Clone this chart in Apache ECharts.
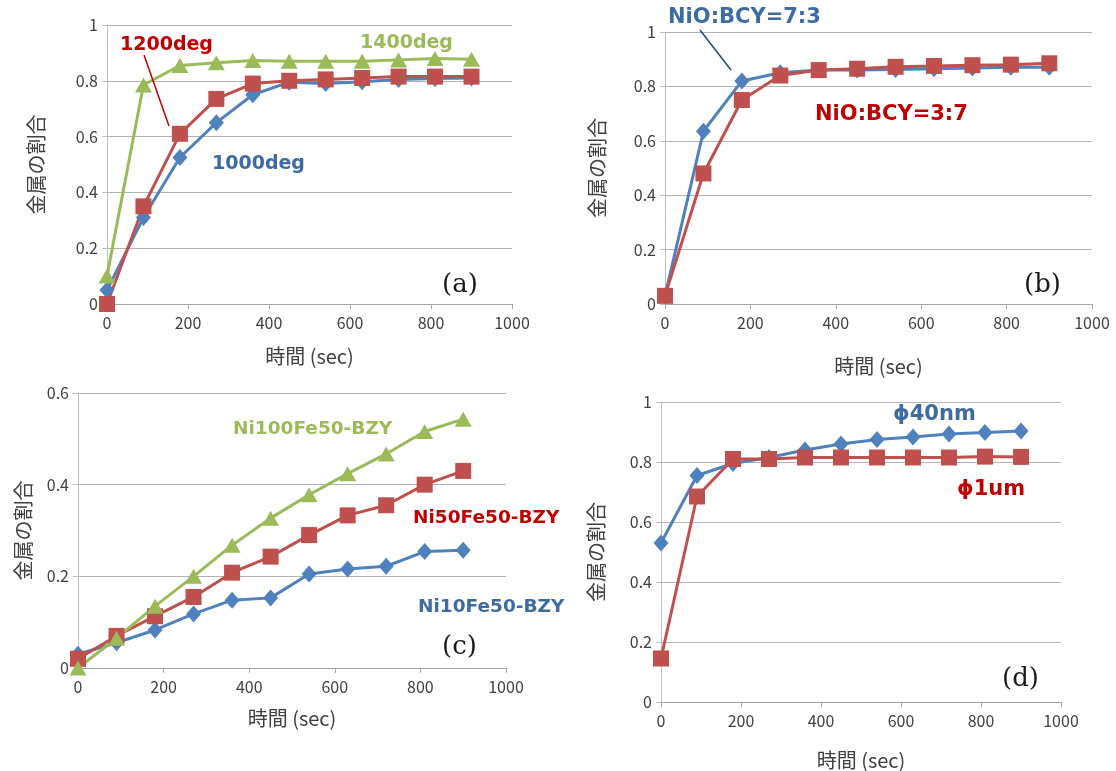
<!DOCTYPE html>
<html>
<head>
<meta charset="utf-8">
<script src="https://cdn.jsdelivr.net/npm/echarts@6/dist/echarts.min.js"></script>
<style>html,body{margin:0;padding:0;background:#fff;}#c{width:1116px;height:771px;}</style>
</head>
<body>
<div id="c"></div>
<script>
// ---- data ----
var times = [0, 90, 180, 270, 360, 450, 540, 630, 720, 810, 900];

var a1000deg = [0.05, 0.31, 0.525, 0.65, 0.75, 0.795, 0.79, 0.797, 0.805, 0.808, 0.81];
var a1200deg = [0.0, 0.35, 0.61, 0.735, 0.79, 0.80, 0.805, 0.81, 0.815, 0.815, 0.815];
var a1400deg = [0.10, 0.785, 0.855, 0.865, 0.873, 0.87, 0.87, 0.87, 0.875, 0.88, 0.877];

var bNiO73 = [0.03, 0.635, 0.82, 0.85, 0.86, 0.86, 0.862, 0.865, 0.868, 0.87, 0.87];
var bNiO37 = [0.03, 0.48, 0.75, 0.84, 0.86, 0.865, 0.872, 0.875, 0.878, 0.88, 0.885];

var cNi10 = [0.03, 0.055, 0.083, 0.118, 0.148, 0.153, 0.205, 0.216, 0.222, 0.254, 0.257];
var cNi50 = [0.02, 0.07, 0.113, 0.155, 0.208, 0.243, 0.29, 0.333, 0.355, 0.40, 0.43];
var cNi100 = [0.0, 0.065, 0.135, 0.20, 0.268, 0.327, 0.378, 0.424, 0.467, 0.516, 0.543];

var d40nm = [0.53, 0.755, 0.795, 0.815, 0.84, 0.86, 0.875, 0.883, 0.893, 0.898, 0.903];
var d1um = [0.145, 0.685, 0.81, 0.81, 0.815, 0.815, 0.815, 0.815, 0.815, 0.818, 0.817];

var yMaxes = [1, 1, 0.6, 1];
var xTitle = '時間 (sec)';
var yTitle = '金属の割合';

// ---- styles ----
var BLUE = '#4F81BD', RED = '#C0504D', GREEN = '#9BBB59';
var TXT_BLUE = '#3D6BA3', TXT_RED = '#C00000', TXT_GREEN = '#9BBB59';
var FONT = '"Noto Sans CJK JP", "Noto Sans", sans-serif';
var LFONT = '"DejaVu Sans", Verdana, sans-serif';

function pairs(ys) { return times.map(function (t, i) { return [t, ys[i]]; }); }

var grids = [
  {left: 107, top: 25, width: 405, height: 279},
  {left: 665, top: 32, width: 427, height: 272},
  {left: 78, top: 393, width: 428, height: 275},
  {left: 661, top: 402, width: 400, height: 300}
];
var xGaps = [42, 52, 40, 48];
var yGaps = [61, 58, 45, 55];

var xAxes = grids.map(function (g, i) {
  return {
    gridIndex: i, type: 'value', min: 0, max: 1000, interval: 200,
    name: xTitle, nameLocation: 'middle', nameGap: xGaps[i],
    nameTextStyle: {fontFamily: FONT, fontSize: 20, color: '#404040'},
    axisLine: {show: true, lineStyle: {color: '#A6A6A6', width: 1}},
    axisTick: {show: true, length: 5, lineStyle: {color: '#A6A6A6'}},
    axisLabel: {fontFamily: FONT, fontSize: 16, color: '#404040', margin: 11,
      formatter: function (v) { return String(v); }},
    splitLine: {show: false}
  };
});
var yAxes = grids.map(function (g, i) {
  return {
    gridIndex: i, type: 'value', min: 0, max: yMaxes[i], interval: 0.2,
    name: yTitle, nameLocation: 'middle', nameGap: yGaps[i], nameRotate: 90,
    nameTextStyle: {fontFamily: FONT, fontSize: 20, color: '#404040'},
    axisLine: {show: true, lineStyle: {color: '#BFBFBF', width: 1}},
    axisTick: {show: true, length: 5, lineStyle: {color: '#BFBFBF'}},
    axisLabel: {fontFamily: FONT, fontSize: 16, color: '#404040', margin: 9},
    splitLine: {show: true, lineStyle: {color: '#B3B3B3', width: 1}}
  };
});

function ser(idx, ys, color, symbol, size) {
  return {
    type: 'line', xAxisIndex: idx, yAxisIndex: idx, data: pairs(ys),
    symbol: symbol, symbolSize: size, showAllSymbol: true,
    lineStyle: {color: color, width: 3},
    itemStyle: {color: color, borderWidth: 0},
    animation: false, z: 3
  };
}

var series = [
  ser(0, a1000deg, BLUE, 'diamond', [15, 17]),
  ser(0, a1200deg, RED, 'rect', 16),
  ser(0, a1400deg, GREEN, 'triangle', [17, 15]),
  ser(1, bNiO73, BLUE, 'diamond', [15, 17]),
  ser(1, bNiO37, RED, 'rect', 16),
  ser(2, cNi10, BLUE, 'diamond', [15, 17]),
  ser(2, cNi50, RED, 'rect', 16),
  ser(2, cNi100, GREEN, 'triangle', [17, 15]),
  ser(3, d40nm, BLUE, 'diamond', [15, 17]),
  ser(3, d1um, RED, 'rect', 16)
];

function lbl(x, y, text, color, size) {
  return {type: 'text', left: x, top: y + 4, z: 10,
    style: {text: text, fill: color, font: 'bold ' + size + 'px ' + LFONT}};
}
function plbl(x, y, text) {
  return {type: 'text', left: x, top: y + 4, z: 10,
    style: {text: text, fill: '#1a1a1a', font: '26px "DejaVu Serif", "Liberation Serif", serif'}};
}

var graphic = [
  lbl(120, 32, '1200deg', TXT_RED, 19),
  lbl(360, 30, '1400deg', TXT_GREEN, 19),
  lbl(212, 151, '1000deg', TXT_BLUE, 19),
  {type: 'line', z: 10, shape: {x1: 144, y1: 55, x2: 169, y2: 126}, style: {stroke: TXT_RED, lineWidth: 1.5}},
  plbl(442, 268, '(a)'),
  lbl(668, 3, 'NiO:BCY=7:3', TXT_BLUE, 21),
  lbl(815, 100, 'NiO:BCY=3:7', TXT_RED, 21),
  {type: 'line', z: 10, shape: {x1: 700, y1: 30, x2: 731, y2: 70}, style: {stroke: '#1F497D', lineWidth: 1.5}},
  plbl(1024, 268, '(b)'),
  lbl(233, 416, 'Ni100Fe50-BZY', TXT_GREEN, 18.5),
  lbl(413, 505, 'Ni50Fe50-BZY', TXT_RED, 18.5),
  lbl(418, 594, 'Ni10Fe50-BZY', TXT_BLUE, 18.5),
  {type: 'rect', z: 11, shape: {x: 569, y: 495, width: 14, height: 130}, style: {fill: '#fff'}},
  plbl(442, 630, '(c)'),
  lbl(893, 400, 'ϕ40nm', TXT_BLUE, 21),
  lbl(957, 475, 'ϕ1um', TXT_RED, 21),
  plbl(1002, 662, '(d)')
];

var chart = echarts.init(document.getElementById('c'), null, {renderer: 'canvas'});
chart.setOption({
  animation: false,
  backgroundColor: '#fff',
  grid: grids,
  xAxis: xAxes,
  yAxis: yAxes,
  series: series,
  graphic: graphic
});
</script>
</body>
</html>
